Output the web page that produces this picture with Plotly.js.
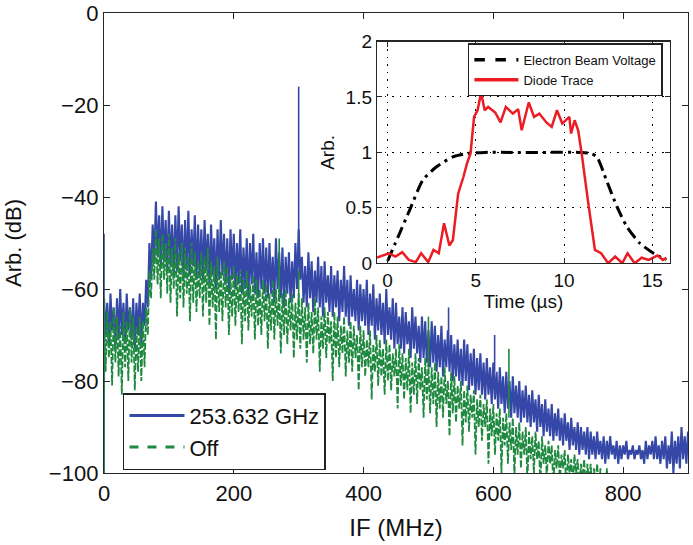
<!DOCTYPE html>
<html>
<head>
<meta charset="utf-8">
<script src="https://cdn.plot.ly/plotly-3.0.1.min.js"></script>
<style>html,body{margin:0;padding:0;background:#fff;}#chart{width:693px;height:545px;}</style>
</head>
<body>
<div id="chart"></div>
<script>
// ---- Main spectrum (IF in MHz, level in dB) ----
// Upper edge of each noisy trace, read every 5 MHz starting at 0 MHz;
// lower edge, read every 5 MHz starting at 2.5 MHz.
const ifStep = 5;
const blueLabel = "253.632 GHz";
const greenLabel = "Off";
const blueTop = [
 -62,-63,-61,-64,-62,-60,-63,-61,-64,-62,-63,-61,
 -63,-58,-50,-46,
 -41,-44,-42,-45,
 -43,-46,-44,-42,-46,-45,-43,-47,-44,-46,
 -47,-45,-48,-46,-49,-47,-45,-48,-49,-47,
 -48,-50,-47,-51,-49,-50,-48,-52,-50,-49,
 -51,-50,-53,-49,-52,-51,-53,-52,-54,-50,
 -47,-53,-55,-52,-54,-56,-53,-55,-54,-57,
 -55,-57,-56,-58,-55,-58,-57,-60,-58,-59,
 -60,-58,-61,-59,-62,-61,-63,-60,-64,-62,
 -63,-66,-64,-65,-67,-64,-66,-68,-66,-67,
 -69,-67,-68,-70,-68,-71,-69,-70,-72,-71,
 -73,-71,-72,-74,-73,-75,-74,-76,-75,-77,
 -76,-78,-77,-79,-78,-80,-79,-81,-80,-82,
 -81,-83,-82,-84,-83,-85,-84,-86,-85,-87,
 -86,-88,-87,-89,-88,-90,-89,-90,-91,-90,
 -91,-92,-91,-93,-92,-93,-92,-94,-93,-94,
 -94,-93,-95,-94,-95,-94,-95,-93,-94,-93,
 -92,-94,-93,-92,-94,-91,-93,-92,-90,-92,
 -91
];
const blueBottom = [
 -70,-72,-69,-73,-71,-70,-72,-69,-71,-73,-70,-72,
 -68,-64,-58,-54,
 -53,-55,-54,-56,
 -55,-57,-56,-54,-58,-56,-57,-55,-58,-57,
 -58,-56,-59,-57,-60,-58,-57,-59,-61,-58,
 -60,-59,-61,-60,-62,-59,-61,-62,-60,-61,
 -62,-61,-63,-60,-62,-64,-61,-63,-62,-60,
 -58,-63,-64,-62,-65,-63,-64,-66,-63,-65,
 -66,-64,-67,-65,-66,-68,-66,-67,-69,-67,
 -68,-70,-68,-71,-69,-70,-72,-70,-71,-73,
 -72,-73,-74,-72,-75,-73,-74,-76,-75,-76,
 -77,-76,-78,-77,-79,-77,-78,-80,-79,-80,
 -81,-80,-82,-81,-83,-82,-83,-84,-83,-85,
 -84,-86,-85,-87,-86,-88,-87,-88,-89,-88,
 -89,-90,-89,-91,-90,-92,-91,-92,-93,-92,
 -93,-94,-93,-95,-94,-95,-96,-95,-96,-97,
 -96,-97,-96,-97,-98,-97,-96,-97,-98,-97,
 -96,-97,-96,-97,-96,-97,-98,-97,-96,-97,
 -97,-98,-97,-99,-98,-100,-98,-99,-97,-98
];
// narrow spikes: IF, level at the foot, level at the tip
const blueSpikeIF   = [0, 300, 531, 602];
const blueSpikeFoot = [-100, -50, -72, -78];
const blueSpikeTip  = [-48, -16, -64, -70];

const greenTop = [
 -64,-65,-67,-64,-66,-68,-65,-67,-64,-66,-68,-66,
 -67,-64,-56,-51,
 -47,-49,-48,-50,
 -48,-51,-49,-52,-50,-51,-53,-50,-52,-54,
 -52,-53,-51,-54,-55,-53,-56,-54,-55,-57,
 -55,-57,-56,-58,-56,-59,-57,-58,-60,-58,
 -59,-61,-58,-60,-60,-61,-60,-62,-61,-63,
 -61,-62,-64,-63,-65,-62,-64,-66,-64,-65,
 -67,-65,-66,-68,-66,-69,-67,-68,-70,-68,
 -69,-71,-69,-72,-70,-71,-73,-71,-72,-74,
 -73,-72,-74,-75,-73,-76,-74,-75,-77,-75,
 -76,-77,-76,-78,-79,-77,-80,-78,-79,-81,
 -80,-82,-81,-83,-82,-84,-83,-85,-84,-86,
 -85,-87,-86,-88,-87,-89,-88,-90,-89,-91,
 -90,-91,-92,-91,-93,-92,-94,-93,-94,-95,
 -94,-96,-95,-96,-97,-96,-97,-98,-97,-98,
 -98,-99,-98,-99,-100,-99,-100,-101,-100,-102,
 -104
];
const greenBottom = [
 -78,-75,-81,-76,-79,-83,-77,-80,-76,-82,-78,-80,
 -77,-70,-62,-58,
 -59,-62,-58,-61,
 -63,-60,-66,-62,-64,-61,-67,-63,-65,-62,
 -66,-63,-68,-64,-71,-65,-67,-64,-70,-66,
 -68,-65,-72,-67,-69,-66,-71,-68,-70,-67,
 -73,-69,-71,-68,-74,-70,-72,-69,-75,-71,
 -73,-71,-76,-72,-74,-71,-78,-73,-75,-72,
 -80,-75,-77,-74,-79,-76,-78,-75,-82,-77,
 -79,-77,-84,-78,-81,-79,-83,-80,-82,-79,
 -86,-81,-84,-82,-87,-83,-85,-82,-88,-84,
 -87,-85,-90,-86,-88,-85,-92,-87,-89,-86,
 -94,-89,-91,-88,-96,-90,-93,-90,-98,-92,
 -96,-93,-100,-94,-98,-95,-101,-96,-99,-96,
 -102,-97,-100,-97,-103,-98,-101,-98,-103,-99,
 -102,-99,-104,-100,-103,-100,-104,-101,-104,-102,
 -104,-102,-105,-103,-105,-104,-105,-104,-106,-105
];
const greenSpikeIF   = [0, 270, 300, 500, 624];
const greenSpikeFoot = [-100, -62, -64, -77, -88];
const greenSpikeTip  = [-62, -49, -56, -66, -73];

// ---- Inset data ----
const beamT = [0, 0.68, 1.25, 2.0, 2.77, 3.7, 4.5, 5.5, 7, 9, 11, 11.5, 11.86, 12.4, 13.0, 13.56, 14.3, 15.07, 15.8];
const beamV = [0.02, 0.27, 0.48, 0.75, 0.87, 0.96, 0.99, 1.0, 1.0, 1.0, 1.0, 0.99, 0.96, 0.75, 0.51, 0.33, 0.18, 0.09, 0.03];
const diodeT = [-0.6,-0.3,0.07,0.45,0.83,1.2,1.6,1.9,2.3,2.6,2.9,3.2,3.5,3.7,4.0,4.3,4.5,4.7,4.9,5.1,
 5.3,5.5,5.7,6.1,6.4,6.7,7.1,7.4,7.6,8.0,8.3,8.6,9.0,9.3,9.6,9.9,10.3,10.4,10.6,10.8,
 11.0,11.35,11.75,12.1,12.5,12.9,13.3,13.6,14.0,14.4,14.8,15.3,15.6,15.8];
const diodeV = [0.05,0.07,0.09,0.06,0.1,0.03,0.01,0.09,0.01,0.12,0.09,0.36,0.16,0.21,0.63,0.78,0.9,0.99,1.32,1.38,
 1.54,1.38,1.41,1.36,1.27,1.41,1.35,1.39,1.2,1.45,1.32,1.35,1.27,1.23,1.38,1.26,1.32,1.17,1.29,1.2,
 0.99,0.57,0.12,0.09,0.0,0.06,0.0,0.09,0.0,0.05,0.03,0.07,0.03,0.05];
const beamLabel = "Electron Beam Voltage";
const diodeLabel = "Diode Trace";

const mainXTicks = [0, 200, 400, 600, 800];
const mainYTicks = [0, -20, -40, -60, -80, -100];
const insetXTicks = [0, 5, 10, 15];
const insetYTicks = [0, 0.5, 1, 1.5, 2];

// ---- Build traces from the arrays ----
function zig(top, bottom) {
  const x = [], y = [];
  for (let i = 0; i < top.length; i++) {
    x.push(i * ifStep); y.push(top[i]);
    if (i < bottom.length) { x.push(i * ifStep + ifStep / 2); y.push(bottom[i]); }
  }
  return {x, y};
}
function spikes(xs, foot, tip) {
  const x = [], y = [];
  xs.forEach((v, i) => { x.push(v, v, null); y.push(foot[i], tip[i], null); });
  return {x, y};
}

const BLUE = "#3548a8", GREEN = "#1f8a3f", RED = "#ec1c24";
const FONT = "Liberation Sans, Arial, Helvetica, sans-serif";
const AX = "#262626";

function spectrum(top, bottom, sx, sf, st, color, dash, w) {
  const z = zig(top, bottom);
  const s = spikes(sx, sf, st);
  return [
    {x: z.x, y: z.y, type: "scatter", mode: "lines", line: {color: color, width: w, dash: dash}, showlegend: false},
    {x: s.x, y: s.y, type: "scatter", mode: "lines", line: {color: color, width: 1.6}, showlegend: false, connectgaps: false}
  ];
}

const traces = [].concat(
  spectrum(blueTop, blueBottom, blueSpikeIF, blueSpikeFoot, blueSpikeTip, BLUE, "solid", 2.1),
  spectrum(greenTop, greenBottom, greenSpikeIF, greenSpikeFoot, greenSpikeTip, GREEN, "7px,2px", 1.8),
  [
    {x: [null], y: [null], type: "scatter", mode: "lines", name: blueLabel, line: {color: BLUE, width: 3}, legend: "legend"},
    {x: [null], y: [null], type: "scatter", mode: "lines", name: greenLabel, line: {color: GREEN, width: 3, dash: "dash"}, legend: "legend"},
    {x: beamT, y: beamV, type: "scatter", mode: "lines", line: {color: "#000", width: 3, dash: "12px,5px,3px,5px", shape: "spline", smoothing: 0.6}, showlegend: false, xaxis: "x2", yaxis: "y2"},
    {x: diodeT, y: diodeV, type: "scatter", mode: "lines", line: {color: RED, width: 2.5}, showlegend: false, xaxis: "x2", yaxis: "y2"},
    {x: [null], y: [null], type: "scatter", mode: "lines", name: beamLabel, line: {color: "#000", width: 3.5, dash: "dash"}, legend: "legend2", xaxis: "x2", yaxis: "y2"},
    {x: [null], y: [null], type: "scatter", mode: "lines", name: diodeLabel, line: {color: RED, width: 3.5}, legend: "legend2", xaxis: "x2", yaxis: "y2"}
  ]
);

const layout = {
  width: 693, height: 545,
  margin: {l: 104, r: 5, t: 12.5, b: 72},
  paper_bgcolor: "#fff", plot_bgcolor: "#fff",
  font: {family: FONT, color: "#111"},
  xaxis: {
    domain: [0, 1], range: [0, 900], tickvals: mainXTicks, ticks: "inside", ticklen: 6, tickcolor: AX,
    showline: true, linecolor: AX, linewidth: 1.2, mirror: "ticks", showgrid: false, zeroline: false,
    tickfont: {size: 22, family: FONT}, title: {text: "IF (MHz)", font: {size: 24, family: FONT}, standoff: 14}
  },
  yaxis: {
    domain: [0, 1], range: [-100, 0], tickvals: mainYTicks, ticks: "inside", ticklen: 6, tickcolor: AX,
    showline: true, linecolor: AX, linewidth: 1.2, mirror: "ticks", showgrid: false, zeroline: false,
    tickfont: {size: 22, family: FONT}, title: {text: "Arb. (dB)", font: {size: 22, family: FONT}, standoff: 21}
  },
  xaxis2: {
    domain: [0.4675, 0.969], anchor: "y2", range: [-0.6, 16], tickvals: insetXTicks, ticks: "inside", ticklen: 5, tickcolor: AX,
    showline: true, linecolor: AX, linewidth: 1.2, mirror: "ticks", showgrid: true, gridcolor: "#000", gridwidth: 1, griddash: "1.5px,6px",
    zeroline: false, tickfont: {size: 19, family: FONT}, title: {text: "Time (µs)", font: {size: 19, family: FONT}, standoff: 4}
  },
  yaxis2: {
    domain: [0.456, 0.938], anchor: "x2", range: [0, 2], tickvals: insetYTicks, ticktext: ["0", "0.5", "1", "1.5", "2"], ticks: "inside", ticklen: 5, tickcolor: AX,
    showline: true, linecolor: AX, linewidth: 1.2, mirror: "ticks", showgrid: true, gridcolor: "#000", gridwidth: 1, griddash: "1.5px,6px",
    zeroline: false, tickfont: {size: 19, family: FONT}, title: {text: "Arb.", font: {size: 19, family: FONT}, standoff: 6}
  },
  legend: {
    x: 0.0325, y: 0.1737, xanchor: "left", yanchor: "top", bgcolor: "#fff", bordercolor: "#222", borderwidth: 1.5,
    font: {size: 22, family: FONT}, tracegroupgap: 0, itemwidth: 55, traceorder: "normal"
  },
  legend2: {
    x: 0.957, y: 0.934, xanchor: "right", yanchor: "top", bgcolor: "#fff", bordercolor: "#222", borderwidth: 1.5,
    font: {size: 13, family: FONT}, tracegroupgap: 0, itemwidth: 44, traceorder: "normal"
  },
  showlegend: true
};

Plotly.newPlot("chart", traces, layout, {staticPlot: true, displayModeBar: false});
</script>
</body>
</html>
